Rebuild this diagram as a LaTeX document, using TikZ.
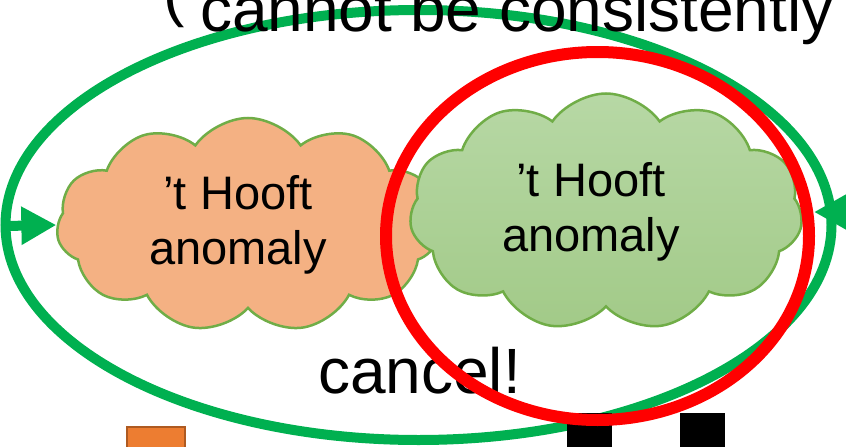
\documentclass[tikz,border=0pt]{standalone}
\usepackage{fontspec}
\setmainfont{Liberation Sans}
\usetikzlibrary{positioning}
\usetikzlibrary{shapes.symbols}
\usetikzlibrary{arrows.meta}
\definecolor{ringGreen}{HTML}{00B050}
\definecolor{ringRed}{HTML}{FF0000}
\definecolor{puffOrange}{HTML}{F4B183}
\definecolor{puffGreenTop}{HTML}{B7D8A5}
\definecolor{puffGreenBot}{HTML}{A2CA88}
\definecolor{puffEdge}{HTML}{70AD47}
\definecolor{boxOrange}{HTML}{ED7D31}
\definecolor{boxOrangeEdge}{HTML}{AE5A21}
\tikzset{
    objCloud/.style={cloud, cloud puffs=11, cloud puff arc=110, cloud ignores aspect, draw=puffEdge, line width=2.5pt, inner sep=0pt},
    objLabel/.style={align=center, font=\fontsize{47}{55}\selectfont, inner sep=0pt},
    objBig/.style={font=\fontsize{64}{70}\selectfont, inner sep=0pt},
    objRing/.style={line width=10pt, draw=ringGreen},
    objSquare/.style={rectangle, minimum width=45pt, minimum height=68pt, fill=black, inner sep=0pt},
    arrow/.style={line width=10pt, draw=ringGreen, -{Triangle[length=35pt,width=36pt]}, fill=ringGreen}
}

\begin{document}
\begin{tikzpicture}[x=1pt, y=-1pt]
  \useasboundingbox (0,0) rectangle (846,447);

  \draw[objRing] (418.5,225) ellipse [x radius=413pt, y radius=215pt];
  \node (paren) [objBig, anchor=base west] at (163,14) {(“};
  \node (quote) [objBig, anchor=base west] at (200,31) {cannot be consistently};

  \node (anom1) [objCloud, fill=puffOrange, minimum width=383pt, minimum height=214pt] at (248,225) {};
  \node (anom2) [objCloud, top color=puffGreenTop, bottom color=puffGreenBot, minimum width=393pt, minimum height=237pt] at (606,212) {};
  \node (txt1) [objLabel] at (238,225) {’t Hooft\\anomaly};
  \node (txt2) [objLabel] at (591,212) {’t Hooft\\anomaly};

  \coordinate (lfoot) at (5,226);
  \coordinate (rfoot) at (880,212);
  \coordinate (rtip) at (814,212);
  \draw[arrow] (lfoot) -- (anom1.west);
  \draw[arrow] (rfoot) -- (rtip);

  \node (cancel) [objBig, anchor=base west] at (318,393) {cancel!};

  \node (box1) [objSquare, fill=boxOrange, draw=boxOrangeEdge, line width=2pt, minimum width=58pt, minimum height=40pt] at (156,447) {};
  \node (blk1) [objSquare] at (589.5,447) {};
  \node (blk2) [objSquare, right=68pt of blk1] {};

  \draw[line width=12pt, draw=ringRed] (597.5,236) ellipse [x radius=211.5pt, y radius=184pt];
\end{tikzpicture}
\end{document}
